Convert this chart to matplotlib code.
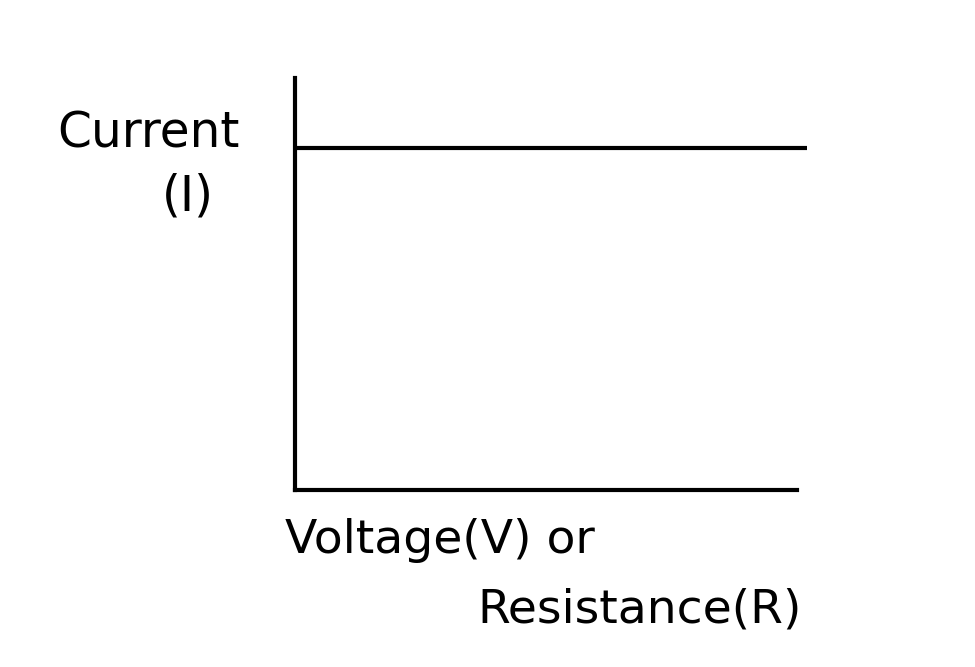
import matplotlib
matplotlib.use("Agg")
import matplotlib.pyplot as plt

# constant current vs voltage / resistance
voltage = [0.0, 1.02]
current = [0.83, 0.83]

y_label_1 = "Current"
y_label_2 = "(I)"
x_label_1 = "Voltage(V) or"
x_label_2 = "Resistance(R)"


def main():
    fig = plt.figure(figsize=(9.75, 6.67), dpi=100)
    ax = fig.add_axes([0.3026, 0.2654, 0.515, 0.6177])

    ax.plot(voltage, current, color="black", lw=3, clip_on=False,
            solid_capstyle="butt")
    ax.set_xlim(0, 1)
    ax.set_ylim(0, 1)

    for side in ["top", "right"]:
        ax.spines[side].set_visible(False)
    for side in ["left", "bottom"]:
        ax.spines[side].set_linewidth(3)
    ax.set_xticks([])
    ax.set_yticks([])

    fig.text(0.152, 0.80, y_label_1, ha="center", va="center", fontsize=35)
    fig.text(0.193, 0.705, y_label_2, ha="center", va="center", fontsize=35)
    fig.text(0.292, 0.19, x_label_1, ha="left", va="center", fontsize=34)
    fig.text(0.49, 0.085, x_label_2, ha="left", va="center", fontsize=34)

    fig.savefig("out.png", dpi=100, facecolor="white")


if __name__ == "__main__":
    main()
